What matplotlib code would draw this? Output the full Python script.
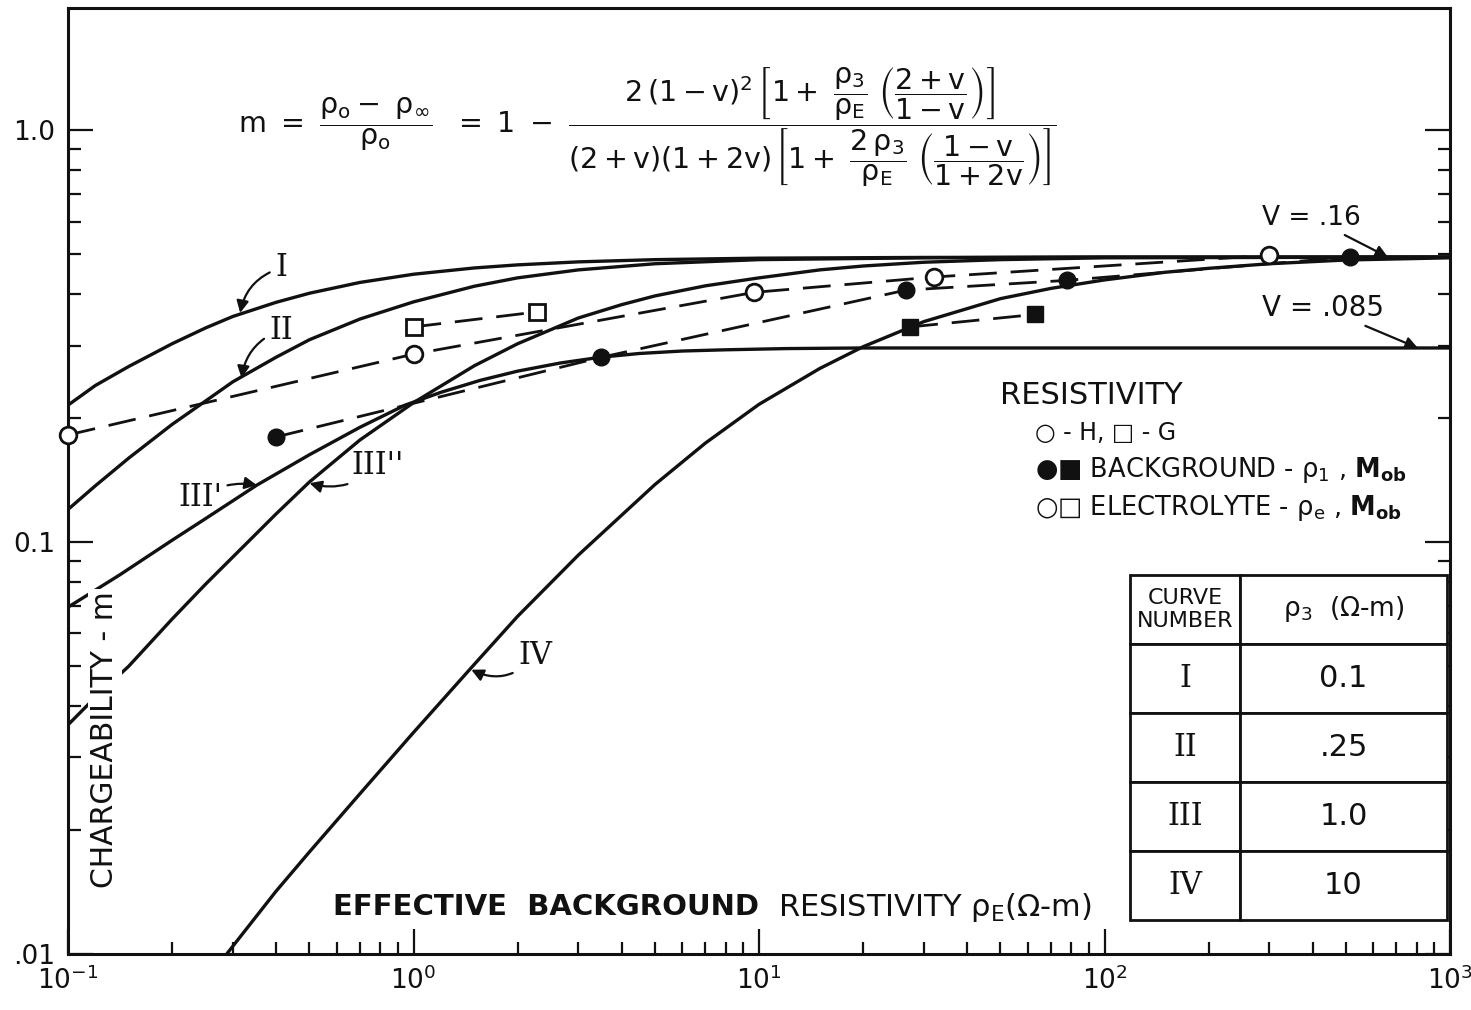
import matplotlib
matplotlib.use('Agg')
import matplotlib.pyplot as plt
from matplotlib.ticker import NullFormatter

plt.rcParams['font.family'] = ['DejaVu Sans']
plt.rcParams['mathtext.default'] = 'regular'

# theoretical curves (rho_E in ohm-m, chargeability m)
curve_I_x = [0.1, 0.12, 0.15, 0.2, 0.25, 0.3, 0.4, 0.5, 0.7, 1, 1.5, 2, 3, 5, 10, 30, 100, 1000]
curve_I_m = [0.215, 0.24, 0.267, 0.303, 0.331, 0.353, 0.382, 0.402, 0.427, 0.447, 0.463,
             0.471, 0.479, 0.485, 0.489, 0.491, 0.492, 0.492]

curve_II_x = [0.1, 0.12, 0.15, 0.2, 0.25, 0.3, 0.4, 0.5, 0.7, 1, 1.5, 2, 3, 5, 10, 30, 100, 1000]
curve_II_m = [0.12, 0.137, 0.16, 0.193, 0.22, 0.245, 0.281, 0.31, 0.348, 0.383, 0.418,
              0.438, 0.458, 0.474, 0.485, 0.49, 0.492, 0.492]

curve_III1_x = [0.1, 0.141, 0.2, 0.25, 0.352, 0.5, 0.7, 0.945, 1.2, 1.56, 2.0, 2.65, 3.47,
                4.5, 6, 8, 12, 20, 50, 1000]
curve_III1_m = [0.0695, 0.0832, 0.101, 0.114, 0.1375, 0.163, 0.19, 0.215, 0.231, 0.247, 0.26,
                0.272, 0.281, 0.287, 0.291, 0.293, 0.295, 0.296, 0.296, 0.296]

curve_III2_x = [0.1, 0.12, 0.15, 0.2, 0.25, 0.3, 0.4, 0.5, 0.7, 1, 1.5, 2, 3, 4, 5, 7, 10,
                15, 20, 30, 50, 100, 1000]
curve_III2_m = [0.036, 0.042, 0.05, 0.065, 0.079, 0.092, 0.117, 0.14, 0.177, 0.218, 0.268,
                0.303, 0.35, 0.377, 0.396, 0.419, 0.438, 0.458, 0.468, 0.478, 0.485, 0.49, 0.492]

curve_IV_x = [0.288, 0.4, 0.5, 0.7, 1, 1.5, 2, 3, 5, 7, 10, 15, 20, 30, 50, 70, 100, 150,
              200, 300, 500, 1000]
curve_IV_m = [0.01, 0.0142, 0.0177, 0.0245, 0.0345, 0.0505, 0.066, 0.093, 0.138, 0.174, 0.216,
              0.264, 0.298, 0.343, 0.39, 0.413, 0.433, 0.452, 0.462, 0.474, 0.484, 0.49]

# measured points
elec_H_x = [0.1, 1.0, 9.7, 32, 300]
elec_H_m = [0.182, 0.286, 0.404, 0.44, 0.497]
elec_G_x = [1.0, 2.27]
elec_G_m = [0.333, 0.362]
back_H_x = [0.40, 3.5, 26.6, 78, 513]
back_H_m = [0.18, 0.281, 0.409, 0.432, 0.492]
back_G_x = [27.4, 63]
back_G_m = [0.333, 0.357]

# table
table_header = ['CURVE\nNUMBER', r'$\rho_3$  ($\Omega$-m)']
curve_names = ['I', 'II', 'III', 'IV']
rho3_values = ['0.1', '.25', '1.0', '10']

W, H = 1471, 1010


def fxy(px, py):
    # reference pixel -> figure fraction
    return (px / W, 1 - py / H)


fig = plt.figure(figsize=(W / 100, H / 100), dpi=100)
ax = fig.add_axes([68 / W, 1 - 954 / H, (1450 - 68) / W, (954 - 8) / H])
ax.set_xscale('log')
ax.set_yscale('log')
ax.set_xlim(0.1, 1000)
ax.set_ylim(0.01, 1.98)

ink = '#111111'
for xs, ms in [(curve_I_x, curve_I_m), (curve_II_x, curve_II_m),
               (curve_III1_x, curve_III1_m), (curve_III2_x, curve_III2_m),
               (curve_IV_x, curve_IV_m)]:
    ax.plot(xs, ms, color=ink, lw=2.4, solid_capstyle='round', solid_joinstyle='round')

dash = dict(color=ink, lw=2.0, dashes=(10, 5))
ax.plot(elec_H_x, elec_H_m, **dash)
ax.plot(elec_G_x, elec_G_m, **dash)
ax.plot(back_H_x, back_H_m, **dash)
ax.plot(back_G_x, back_G_m, **dash)
ax.plot(elec_H_x, elec_H_m, 'o', ms=12, mfc='white', mec=ink, mew=2, clip_on=False, zorder=5)
ax.plot(elec_G_x, elec_G_m, 's', ms=12, mfc='white', mec=ink, mew=2, zorder=5)
ax.plot(back_H_x, back_H_m, 'o', ms=12, color=ink, zorder=5)
ax.plot(back_G_x, back_G_m, 's', ms=12, color=ink, zorder=5)

# axes styling
for s in ax.spines.values():
    s.set_linewidth(2.2)
    s.set_color(ink)
ax.tick_params(which='both', direction='in', left=True, right=True, bottom=True, top=False,
               colors=ink, width=1.6)
ax.tick_params(which='major', length=18, labelsize=19, pad=9)
ax.tick_params(which='minor', length=9)
ax.set_yticks([0.01, 0.1, 1.0])
ax.set_yticklabels(['.01', '0.1', '1.0'])
ax.set_xticks([0.1, 1, 10, 100, 1000])
ax.set_xticklabels([r'$10^{-1}$', r'$10^{0}$', r'$10^{1}$', r'$10^{2}$', r'$10^{3}$'])
ax.yaxis.set_minor_formatter(NullFormatter())
ax.xaxis.set_minor_formatter(NullFormatter())

# formula
formula = (r'$m\ =\ \dfrac{\rho_o -\ \rho_\infty}{\rho_o}\ \ =\ 1\ -\ '
           r'\dfrac{2\,(1-v)^2\,\left[1+\ \dfrac{\rho_3}{\rho_E}\ \left(\dfrac{2+v}{1-v}\right)\right]}'
           r'{(2+v)(1+2v)\,\left[1+\ \dfrac{2\,\rho_3}{\rho_E}\ \left(\dfrac{1-v}{1+2v}\right)\right]}$')
fig.text(*fxy(238, 127), formula, fontsize=20.5, ha='left', va='center', color=ink)

# axis titles inside the plot (the y title blanks out the curves behind it)
fig.text(*fxy(105, 740), 'CHARGEABILITY - m', rotation=90, fontsize=21.5, ha='center', va='center',
         color=ink, bbox=dict(facecolor='white', edgecolor='none', pad=2))
fig.text(*fxy(333, 907), 'EFFECTIVE  BACKGROUND', fontsize=21, fontweight='bold', ha='left', va='center', color=ink)
fig.text(*fxy(778, 907), r'RESISTIVITY $\rho_E$($\Omega$-m)', fontsize=22, ha='left', va='center', color=ink)

# v labels
arr = dict(arrowstyle='-|>', color=ink, lw=1.6, mutation_scale=18, shrinkA=2, shrinkB=0)
ax.annotate('V = .16', xy=(661, 0.492), xytext=fxy(1262, 218), textcoords='figure fraction',
            fontsize=19, ha='left', va='center', color=ink, arrowprops=arr)
ax.annotate('V = .085', xy=(807, 0.296), xytext=fxy(1262, 308), textcoords='figure fraction',
            fontsize=20, ha='left', va='center', color=ink, arrowprops=arr)

# curve labels
lab = dict(fontsize=22, family='DejaVu Serif', color=ink, ha='center', va='center',
           textcoords='figure fraction')
curv = dict(arr, connectionstyle='arc3,rad=0.3')
ax.annotate('I', xy=(0.315, 0.36), xytext=fxy(281, 268), arrowprops=curv, **lab)
ax.annotate('II', xy=(0.318, 0.25), xytext=fxy(281, 330), arrowprops=curv, **lab)
ax.annotate("III'", xy=(0.352, 0.1375), xytext=fxy(200, 497), arrowprops=dict(arr, connectionstyle='arc3,rad=-0.2'), **lab)
ax.annotate("III''", xy=(0.5, 0.139), xytext=fxy(378, 465), arrowprops=dict(arr, connectionstyle='arc3,rad=-0.3'), **lab)
ax.annotate('IV', xy=(1.47, 0.049), xytext=fxy(535, 655), arrowprops=dict(arr, connectionstyle='arc3,rad=-0.4'), **lab)

# legend text
fig.text(*fxy(1000, 396), 'RESISTIVITY', fontsize=22, ha='left', va='center', color=ink)
fig.text(*fxy(1035, 433), '○ - H, □ - G', fontsize=17, ha='left', va='center', color=ink)
fig.text(*fxy(1035, 470), r'●■ BACKGROUND - $\rho_1$ , $\mathbf{M_{ob}}$', fontsize=18.5, ha='left', va='center', color=ink)
fig.text(*fxy(1035, 508), r'○□ ELECTROLYTE - $\rho_e$ , $\mathbf{M_{ob}}$', fontsize=18.5, ha='left', va='center', color=ink)

# curve table
rows = [[c, v] for c, v in zip(curve_names, rho3_values)]
x0 = (1130 - 68) / 1382
y0 = (954 - 920) / 946
tb = ax.table(cellText=rows, colLabels=table_header, cellLoc='center',
              colWidths=[110 / 317, 207 / 317],
              bbox=[x0, y0, 317 / 1382, 345 / 946], zorder=6)
tb.auto_set_font_size(False)
for (r, c), cell in tb.get_celld().items():
    cell.set_linewidth(2.0)
    cell.set_edgecolor(ink)
    cell.set_facecolor('white')
    t = cell.get_text()
    t.set_color(ink)
    if r == 0:
        t.set_fontsize(16 if c == 0 else 19)
    else:
        t.set_fontsize(22)
        if c == 0:
            t.set_fontfamily('DejaVu Serif')

fig.savefig('out.png', dpi=100)
